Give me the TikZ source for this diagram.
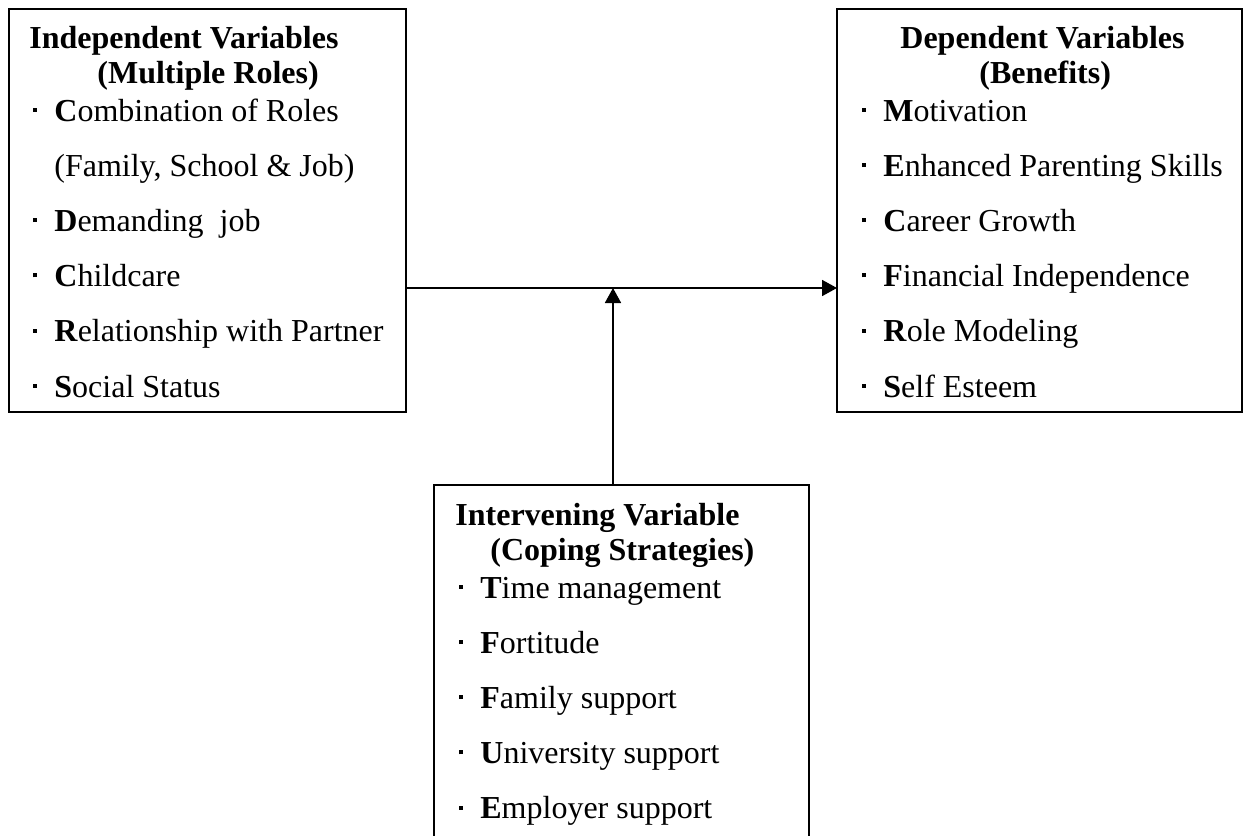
\documentclass[tikz,border=0pt]{standalone}
\usepackage{fontspec}
\setmainfont{Liberation Serif}
\usetikzlibrary{arrows.meta}
\newcommand{\bul}{\makebox[10.5pt][l]{\raisebox{4.6pt}{\rule{2pt}{2pt}}}}

\begin{document}
\begin{tikzpicture}[x=0.5pt, y=-0.5pt,
  box/.style={draw, line width=0.9pt, rectangle, inner sep=0, outer sep=0},
  head/.style={anchor=base west, inner sep=0, font=\fontsize{16pt}{19pt}\selectfont\bfseries},
  item/.style={anchor=base west, inner sep=0, font=\fontsize{16pt}{19pt}\selectfont},
  link/.style={line width=0.9pt, -{Triangle[length=7.5pt, width=8pt]}}]
  \useasboundingbox (0, 0) rectangle (1244, 836);

  % boxes
  \node[box, minimum width=198.5pt, minimum height=201.5pt]
    (indep) at (207.5, 210.5) {};
  \node[box, minimum width=202.5pt, minimum height=201.5pt]
    (dep) at (1039.5, 210.5) {};
  \node[box, minimum width=187.5pt, minimum height=200pt]
    (inter) at (621.5, 685) {};

  % headings
  \node[head] (indep-h1) at (29, 48) {Independent Variables};
  \node[head] (indep-h2) at (97, 83) {(Multiple Roles)};
  \node[head] (dep-h1) at (900, 48) {Dependent Variables};
  \node[head] (dep-h2) at (979, 83) {(Benefits)};
  \node[head] (inter-h1) at (455, 525) {Intervening Variable};
  \node[head] (inter-h2) at (490, 560) {(Coping Strategies)};

  % lists
  \foreach \t [count=\i from 0] in {%
      {\bul\textbf{C}ombination of Roles},
      {\hspace*{10.5pt}(Family, School \& Job)},
      {\bul\textbf{D}emanding~ job},
      {\bul\textbf{C}hildcare},
      {\bul\textbf{R}elationship with Partner},
      {\bul\textbf{S}ocial Status}}
    \node[item] (indep-\i) at (33, 121+55.2*\i) {\t};

  \foreach \t [count=\i from 0] in {%
      {\bul\textbf{M}otivation},
      {\bul\textbf{E}nhanced Parenting Skills},
      {\bul\textbf{C}areer Growth},
      {\bul\textbf{F}inancial Independence},
      {\bul\textbf{R}ole Modeling},
      {\bul\textbf{S}elf Esteem}}
    \node[item] (dep-\i) at (862, 121+55.2*\i) {\t};

  \foreach \t [count=\i from 0] in {%
      {\bul\textbf{T}ime management},
      {\bul\textbf{F}ortitude},
      {\bul\textbf{F}amily support},
      {\bul\textbf{U}niversity support},
      {\bul\textbf{E}mployer support}}
    \node[item] (inter-\i) at (459, 598+55.2*\i) {\t};

  % connectors
  \coordinate (mid) at (613, 288);
  \draw[link] (indep.east |- mid) -- (dep.west |- mid);
  \draw[link] (inter.north -| mid) -- (mid);
\end{tikzpicture}
\end{document}
